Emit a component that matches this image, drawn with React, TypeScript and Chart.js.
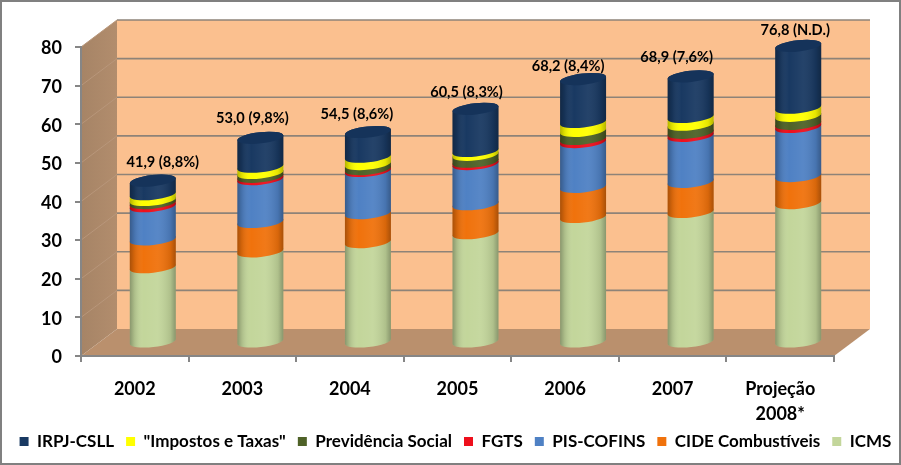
import React, { useEffect, useRef } from "react";
import { Chart, registerables } from "chart.js";

Chart.register(...registerables);

const categories = ["2002", "2003", "2004", "2005", "2006", "2007", ["Projeção", "2008*"]];
const icms = [19.5, 23.6, 26.0, 28.3, 32.5, 33.8, 36.1];
const cide = [7.2, 7.6, 7.5, 7.5, 7.8, 7.8, 7.0];
const pisCofins = [8.6, 11.1, 10.9, 10.4, 11.6, 11.9, 12.7];
const fgts = [0.8, 0.6, 0.5, 0.6, 0.8, 0.8, 0.8];
const previdencia = [0.8, 1.0, 1.3, 1.8, 2.1, 2.1, 2.1];
const impostos = [1.5, 1.6, 1.9, 1.0, 2.3, 2.0, 2.1];
const irpj = [3.5, 7.5, 6.4, 10.9, 11.1, 10.5, 16.0];
const totalLabels = ["41,9 (8,8%)", "53,0 (9,8%)", "54,5 (8,6%)", "60,5 (8,3%)", "68,2 (8,4%)", "68,9 (7,6%)", "76,8 (N.D.)"];

const labelShiftX = [10, -8, -11, -9, -15, -14, -3];
const labelShiftY = [-18, -20, -18, -17, -13, -19, -16];
const DEPTH_X = 36;
const DEPTH_Y = 27;
const FONT = "Lato, Carlito, 'Open Sans', sans-serif";

const walls = {
  id: "walls",
  afterLayout(chart: any) {
    chart.legend.left += 5;
    chart.legend.right += 5;
  },
  beforeDraw(chart: any) {
    const { ctx, width, height } = chart;
    const { x, y } = chart.scales;
    const left = x.left;
    const right = x.right;
    const top = y.getPixelForValue(80);
    const bottom = y.getPixelForValue(0);
    ctx.save();
    ctx.fillStyle = "#ffffff";
    ctx.fillRect(0, 0, width, height);
    ctx.strokeStyle = "#808080";
    ctx.lineWidth = 2;
    ctx.strokeRect(1, 1, width - 2, height - 2);

    ctx.fillStyle = "#fbc08f";
    ctx.fillRect(left + DEPTH_X, top - DEPTH_Y, right - left, bottom - top);

    const side = ctx.createLinearGradient(left, 0, left + DEPTH_X, 0);
    side.addColorStop(0, "#a68466");
    side.addColorStop(1, "#b28d6d");
    ctx.fillStyle = side;
    ctx.beginPath();
    ctx.moveTo(left, top);
    ctx.lineTo(left + DEPTH_X, top - DEPTH_Y);
    ctx.lineTo(left + DEPTH_X, bottom - DEPTH_Y);
    ctx.lineTo(left, bottom);
    ctx.closePath();
    ctx.fill();

    ctx.fillStyle = "#ba906d";
    ctx.beginPath();
    ctx.moveTo(left, bottom);
    ctx.lineTo(right, bottom);
    ctx.lineTo(right + DEPTH_X, bottom - DEPTH_Y);
    ctx.lineTo(left + DEPTH_X, bottom - DEPTH_Y);
    ctx.closePath();
    ctx.fill();

    y.ticks.forEach((t: any) => {
      const py = y.getPixelForValue(t.value);
      if (t.value > 0) {
        ctx.strokeStyle = "#b8967a";
        ctx.lineWidth = 1;
        ctx.beginPath();
        ctx.moveTo(left, py);
        ctx.lineTo(left + DEPTH_X, py - DEPTH_Y);
        ctx.stroke();
        ctx.strokeStyle = "#8e8378";
        ctx.lineWidth = 1.6;
        ctx.beginPath();
        ctx.moveTo(left + DEPTH_X, py - DEPTH_Y);
        ctx.lineTo(right + DEPTH_X, py - DEPTH_Y);
        ctx.stroke();
      }
    });
    ctx.restore();
  },
};

const cylinders = {
  id: "cylinders",
  beforeDatasetDraw() {
    return false;
  },
  beforeDatasetsDraw(chart: any) {
    const { ctx } = chart;
    const rot = -0.11;
    const b = 5.6;
    const n = chart.data.datasets.length;
    for (let d = 0; d < n; d++) {
      const meta = chart.getDatasetMeta(d);
      meta.data.forEach((bar: any) => {
        const cx = bar.x + DEPTH_X / 2;
        const yTop = bar.y - DEPTH_Y / 2;
        const yBase = bar.base - DEPTH_Y / 2;
        const a = bar.width / 2;
        const colour = chart.data.datasets[d].backgroundColor;
        ctx.save();
        ctx.beginPath();
        ctx.ellipse(cx, yBase, a, b, rot, 0, Math.PI, false);
        ctx.ellipse(cx, yTop, a, b, rot, Math.PI, Math.PI * 2, false);
        ctx.closePath();
        ctx.fillStyle = colour;
        ctx.fill();
        const shade = ctx.createLinearGradient(cx - a, 0, cx + a, 0);
        shade.addColorStop(0, "rgba(0,0,0,0.3)");
        shade.addColorStop(0.1, "rgba(0,0,0,0.12)");
        shade.addColorStop(0.3, "rgba(255,255,255,0.0)");
        shade.addColorStop(0.6, "rgba(255,255,255,0.05)");
        shade.addColorStop(0.88, "rgba(0,0,0,0.1)");
        shade.addColorStop(1, "rgba(0,0,0,0.3)");
        ctx.fillStyle = shade;
        ctx.fill();
        if (d === n - 1) {
          ctx.beginPath();
          ctx.ellipse(cx, yTop, a, b, rot, 0, Math.PI * 2);
          ctx.fillStyle = "#15335a";
          ctx.fill();
        }
        ctx.restore();
      });
    }
  },
  afterDatasetsDraw(chart: any) {
    const { ctx } = chart;
    const last = chart.getDatasetMeta(chart.data.datasets.length - 1);
    ctx.save();
    ctx.font = `bold 14.6px ${FONT}`;
    ctx.fillStyle = "#000000";
    ctx.textAlign = "center";
    ctx.textBaseline = "middle";
    last.data.forEach((bar: any, i: number) => {
      ctx.fillText(totalLabels[i], bar.x + DEPTH_X / 2 + labelShiftX[i], bar.y - DEPTH_Y / 2 + labelShiftY[i]);
    });
    ctx.restore();
  },
};

export default function App() {
  const ref = useRef<HTMLCanvasElement>(null);
  useEffect(() => {
    document.body.style.margin = "0";
    const dataset = (label: string, data: number[], backgroundColor: string) => ({
      label,
      data,
      backgroundColor,
      categoryPercentage: 1,
      barPercentage: 0.43,
    });
    const chart = new Chart(ref.current as HTMLCanvasElement, {
      type: "bar",
      data: {
        labels: categories as any,
        datasets: [
          dataset("ICMS", icms, "#c3d69b"),
          dataset("CIDE Combustíveis", cide, "#f0720c"),
          dataset("PIS-COFINS", pisCofins, "#4f81c4"),
          dataset("FGTS", fgts, "#ee0f1c"),
          dataset("Previdência Social", previdencia, "#4f6228"),
          dataset('"Impostos e Taxas"', impostos, "#ffff00"),
          dataset("IRPJ-CSLL", irpj, "#193962"),
        ],
      },
      plugins: [walls, cylinders],
      options: {
        responsive: false,
        animation: false,
        layout: { padding: { top: 47, right: 0, left: 0, bottom: 5 } },
        plugins: {
          tooltip: { enabled: false },
          legend: {
            position: "bottom",
            reverse: true,
            labels: {
              boxWidth: 9,
              boxHeight: 9,
              padding: 12,
              color: "#000000",
              font: { family: FONT, weight: "bold", size: 17 },
            },
          },
        },
        scales: {
          x: {
            stacked: true,
            afterFit: (s: any) => {
              s.height = 65;
            },
            border: { color: "#868686", width: 2 },
            grid: { drawOnChartArea: false, color: "#868686", lineWidth: 2, tickLength: 6, offset: true },
            ticks: {
              color: "#000000",
              padding: 14,
              maxRotation: 0,
              autoSkip: false,
              font: { family: FONT, weight: "bold", size: 18, lineHeight: 1.42 },
            },
          },
          y: {
            stacked: true,
            min: 0,
            max: 80,
            afterFit: (s: any) => {
              s.width = 81;
            },
            border: { color: "#868686", width: 2 },
            grid: { drawOnChartArea: false, color: "#868686", lineWidth: 2, tickLength: 6 },
            ticks: {
              stepSize: 10,
              color: "#000000",
              padding: 13,
              labelOffset: 1.5,
              font: { family: FONT, weight: "bold", size: 18 },
            },
          },
          rightGutter: {
            position: "right",
            min: 0,
            max: 1,
            afterFit: (s: any) => {
              s.width = 67;
            },
            border: { display: false },
            grid: { display: false },
            ticks: { display: false },
          },
        },
      } as any,
    });
    return () => chart.destroy();
  }, []);
  return <canvas ref={ref} width={901} height={465} style={{ display: "block" }} />;
}
